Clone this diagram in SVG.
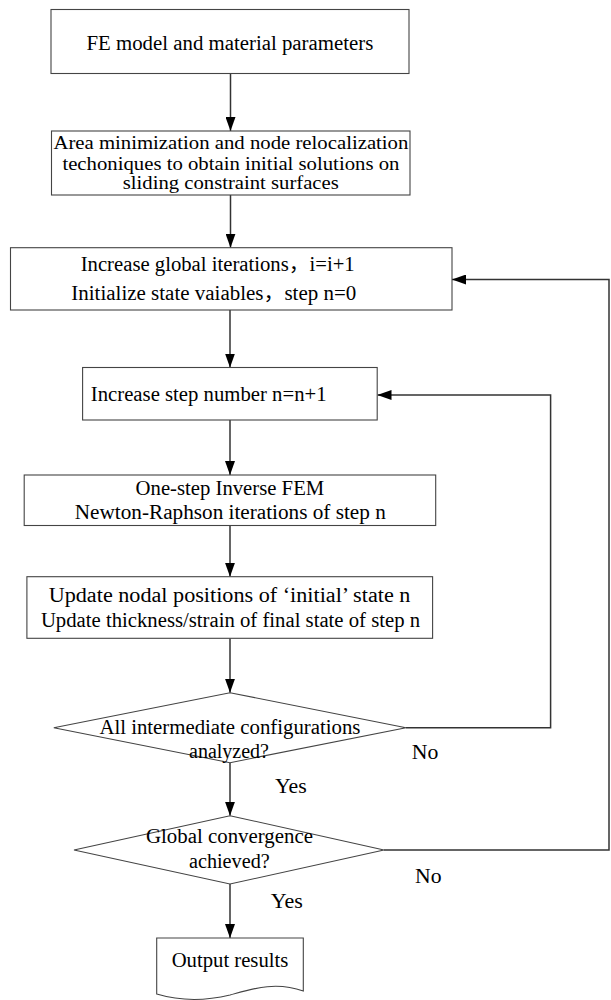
<svg xmlns="http://www.w3.org/2000/svg" width="611" height="1000" viewBox="0 0 611 1000">
<defs>
<marker id="arr" markerUnits="userSpaceOnUse" markerWidth="14" markerHeight="10" refX="14" refY="5" orient="auto">
<path d="M0,0 L14,5 L0,10 Z" fill="#000"/>
</marker>
<style>
.box{fill:#fff;stroke:#444;stroke-width:1.1}
.t{font-family:"Liberation Serif","Times New Roman","Noto Sans CJK SC",serif;font-size:20px;fill:#000}
.s{font-size:18px}
.ln{fill:none;stroke:#333;stroke-width:1.5}
</style>
</defs>
<rect width="611" height="1000" fill="#fff"/>
<g id="connectors">
<line class="ln" x1="230.5" y1="73.5" x2="230.5" y2="131" marker-end="url(#arr)"/>
<line class="ln" x1="230.5" y1="195" x2="230.5" y2="247.7" marker-end="url(#arr)"/>
<line class="ln" x1="230" y1="310" x2="230" y2="367.5" marker-end="url(#arr)"/>
<line class="ln" x1="230" y1="420" x2="230" y2="475" marker-end="url(#arr)"/>
<line class="ln" x1="230" y1="525.5" x2="230" y2="576.7" marker-end="url(#arr)"/>
<line class="ln" x1="230" y1="638.3" x2="230" y2="692.7" marker-end="url(#arr)"/>
<line class="ln" x1="230" y1="762.7" x2="230" y2="815.7" marker-end="url(#arr)"/>
<line class="ln" x1="230" y1="884" x2="230" y2="938" marker-end="url(#arr)"/>
<polyline class="ln" points="406,727.7 550.6,727.7 550.6,395 377.5,395" marker-end="url(#arr)"/>
<polyline class="ln" points="384,850 609,850 609,279.5 452,279.5" marker-end="url(#arr)"/>
<text class="t" x="411.7" y="759.3" textLength="26.6" lengthAdjust="spacingAndGlyphs">No</text>
<text class="t" x="415" y="883.3" textLength="26.5" lengthAdjust="spacingAndGlyphs">No</text>
<text class="t" x="275" y="793.3" textLength="31.7" lengthAdjust="spacingAndGlyphs">Yes</text>
<text class="t" x="270.8" y="908.3" textLength="32" lengthAdjust="spacingAndGlyphs">Yes</text>
</g>
<g id="n1">
<rect class="box" x="51" y="9.5" width="358" height="64"/>
<text class="t" x="86.5" y="49.5" textLength="286.8" lengthAdjust="spacingAndGlyphs">FE model and material parameters</text>
</g>
<g id="n2">
<rect class="box" x="51.5" y="131" width="358.5" height="64"/>
<text class="t s" x="53.4" y="148.5" textLength="355" lengthAdjust="spacingAndGlyphs">Area minimization and node relocalization</text>
<text class="t s" x="62.4" y="169.5" textLength="337" lengthAdjust="spacingAndGlyphs">techoniques to obtain initial solutions on</text>
<text class="t s" x="122.8" y="189" textLength="216" lengthAdjust="spacingAndGlyphs">sliding constraint surfaces</text>
</g>
<g id="n3">
<rect class="box" x="10.5" y="247.7" width="441.5" height="62.3"/>
<text class="t" x="80.7" y="271" textLength="274" lengthAdjust="spacingAndGlyphs">Increase global iterations，i=i+1</text>
<text class="t" x="71.3" y="299.5" textLength="285" lengthAdjust="spacingAndGlyphs">Initialize state vaiables，step n=0</text>
</g>
<g id="n4">
<rect class="box" x="82.6" y="367.5" width="294.6" height="52.5"/>
<text class="t" x="90.8" y="401" textLength="235.8" lengthAdjust="spacingAndGlyphs">Increase step number n=n+1</text>
</g>
<g id="n5">
<rect class="box" x="24.2" y="475" width="411.5" height="50.5"/>
<text class="t" x="135.6" y="494.5" textLength="188.6" lengthAdjust="spacingAndGlyphs">One-step Inverse FEM</text>
<text class="t" x="74.8" y="518.5" textLength="311" lengthAdjust="spacingAndGlyphs">Newton-Raphson iterations of step n</text>
</g>
<g id="n6">
<rect class="box" x="26.9" y="576.7" width="405.7" height="61.6"/>
<text class="t" x="48.7" y="601.7" textLength="361.7" lengthAdjust="spacingAndGlyphs">Update nodal positions of ‘initial’ state n</text>
<text class="t" x="40.9" y="627" textLength="379.2" lengthAdjust="spacingAndGlyphs">Update thickness/strain of final state of step n</text>
</g>
<g id="d1">
<polygon class="box" points="230,692.7 406,727.7 230,762.7 53.8,727.7"/>
<text class="t" x="99.4" y="734.3" textLength="261" lengthAdjust="spacingAndGlyphs">All intermediate configurations</text>
<text class="t" x="189" y="757.7" textLength="80" lengthAdjust="spacingAndGlyphs">analyzed?</text>
</g>
<g id="d2">
<polygon class="box" points="230,815.7 384,850 230,884 74,850"/>
<text class="t" x="146" y="843.3" textLength="167" lengthAdjust="spacingAndGlyphs">Global convergence</text>
<text class="t" x="189" y="868.3" textLength="80.7" lengthAdjust="spacingAndGlyphs">achieved?</text>
</g>
<g id="out">
<path class="box" d="M156.7,938 H303.3 V991 C275,981 252,989 230,995 C205,1001 180,1001 156.7,994 Z"/>
<text class="t" x="171.7" y="966.7" textLength="116.6" lengthAdjust="spacingAndGlyphs">Output results</text>
</g>
</svg>
